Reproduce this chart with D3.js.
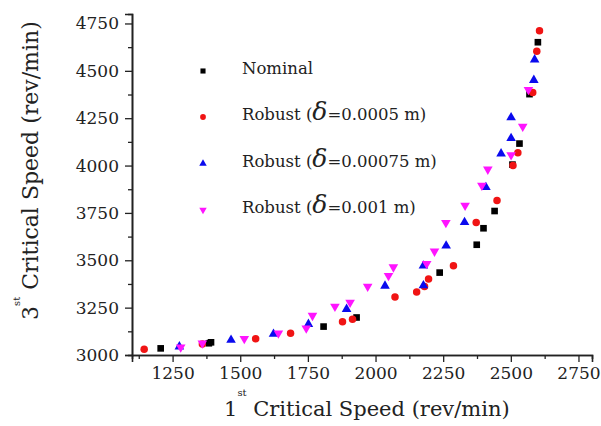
<!DOCTYPE html>
<html>
<head>
<meta charset="utf-8">
<script src="https://cdn.jsdelivr.net/npm/d3@7"></script>
<style>
  body { margin: 0; background: #fff; }
  svg { display: block; }
</style>
</head>
<body>
<svg id="chart" width="601" height="426"></svg>
<script>

// values, [1st critical speed, 3rd critical speed]
var nominal = [[1206,3035], [1384,3062], [1392,3067], [1808,3150], [1930,3198], [2237,3435],
               [2374,3582], [2399,3669], [2440,3760], [2506,4005], [2532,4116], [2569,4377],
               [2600,4651]];

var robust_0005 = [[1145,3030], [1360,3058], [1557,3086], [1686,3115], [1878,3176], [1915,3189],
                   [2072,3306], [2152,3332], [2181,3362], [2196,3401], [2288,3471], [2372,3700],
                   [2449,3815], [2508,4000], [2526,4068], [2581,4386], [2596,4603], [2606,4712]];

var robust_00075 = [[1275,3044], [1466,3079], [1623,3111], [1752,3163], [1893,3242], [2035,3365],
                    [2177,3367], [2177,3471], [2261,3577], [2329,3701], [2408,3885], [2464,4063],
                    [2501,4144], [2501,4254], [2585,4451], [2588,4559]];

var robust_001 = [[1280,3041], [1360,3062], [1515,3086], [1641,3115], [1744,3141], [1767,3208],
                  [1850,3256], [1906,3277], [1971,3362], [2048,3418], [2066,3464], [2189,3482],
                  [2218,3547], [2260,3698], [2331,3789], [2393,3895], [2415,3980], [2501,4056],
                  [2544,4206], [2565,4400]];

var series_names = ['Nominal', 'Robust (', 'Robust (', 'Robust ('];
var series_deltas = [null, '=0.0005 m)', '=0.00075 m)', '=0.001 m)'];

var x_ticks = [1250, 1500, 1750, 2000, 2250, 2500, 2750];
var y_ticks = [3000, 3250, 3500, 3750, 4000, 4250, 4500, 4750];

var font = '"DejaVu Serif", serif';
var ink = '#222';

var svg = d3.select('#chart');

var x = d3.scaleLinear().domain([1100, 2800]).range([132, 592]);
var y = d3.scaleLinear().domain([3000, 4800]).range([355, 14]);

var styles = [
  {color: '#000000', shape: d3.symbolSquare,   size: 44, legend_size: 26, rotate: 0},
  {color: '#f01414', shape: d3.symbolCircle,   size: 44, legend_size: 26, rotate: 0},
  {color: '#0a0aee', shape: d3.symbolTriangle, size: 40, legend_size: 24, rotate: 0},
  {color: '#ff14ff', shape: d3.symbolTriangle, size: 40, legend_size: 24, rotate: 180}
];

var all_series = [nominal, robust_0005, robust_00075, robust_001];

// axes: major ticks every 250, minor every 125, pointing outward
var x_minor = d3.range(1125, 2800, 125).filter(v => x_ticks.indexOf(v) < 0);
var y_minor = d3.range(3125, 4800, 250);

var x_axis = svg.append('g').attr('transform', 'translate(0,355)');
x_axis.call(d3.axisBottom(x).tickValues(x_minor).tickSize(4).tickFormat(''));
x_axis.call(g => {
  g.append('g').call(d3.axisBottom(x).tickValues(x_ticks).tickSize(7).tickFormat(d3.format('d')));
});

var y_axis = svg.append('g').attr('transform', 'translate(132,0)');
y_axis.call(d3.axisLeft(y).tickValues(y_minor).tickSize(4).tickFormat(''));
y_axis.call(g => {
  g.append('g').call(d3.axisLeft(y).tickValues(y_ticks).tickSize(7).tickFormat(d3.format('d')));
});

svg.selectAll('.domain').attr('stroke', ink).attr('stroke-width', 1.6);
svg.selectAll('.tick line').attr('stroke', ink).attr('stroke-width', 1.3);
svg.selectAll('.tick text')
   .attr('font-family', font)
   .attr('font-size', 17)
   .attr('fill', ink);

x_axis.selectAll('.tick text').attr('y', 12);
y_axis.selectAll('.tick text').attr('x', -13);

// data points
all_series.forEach((data, i) => {
  var st = styles[i];
  svg.append('g')
     .selectAll('path')
     .data(data)
     .enter()
     .append('path')
     .attr('d', d3.symbol().type(st.shape).size(st.size))
     .attr('transform', d => 'translate(' + x(d[0]) + ',' + y(d[1]) + ') rotate(' + st.rotate + ')')
     .attr('fill', st.color);
});

// legend
var legend_y = [74, 120, 166.5, 213];

series_names.forEach((name, i) => {
  var st = styles[i];
  var g = svg.append('g');

  g.append('path')
   .attr('d', d3.symbol().type(st.shape).size(st.legend_size))
   .attr('transform', 'translate(203,' + (legend_y[i] - 3) + ') rotate(' + st.rotate + ')')
   .attr('fill', st.color);

  var t = g.append('text')
           .attr('x', 242)
           .attr('y', legend_y[i])
           .attr('font-family', font)
           .attr('font-size', 16.5)
           .attr('fill', ink);

  t.append('tspan').text(name);

  if (series_deltas[i])
  {
    t.append('tspan')
     .text('δ')
     .attr('font-style', 'italic')
     .attr('font-size', 25);
    t.append('tspan')
     .text(series_deltas[i]);
  }
});

// axis titles
var x_title = svg.append('text')
                 .attr('x', 224)
                 .attr('y', 416)
                 .attr('font-family', font)
                 .attr('font-size', 21)
                 .attr('fill', ink);
x_title.append('tspan').text('1');
x_title.append('tspan').text('st').attr('font-size', 10).attr('dy', -20);
x_title.append('tspan').text(' Critical Speed (rev/min)').attr('dy', 20);

var y_title = svg.append('text')
                 .attr('transform', 'translate(38,320) rotate(-90)')
                 .attr('font-family', font)
                 .attr('font-size', 22)
                 .attr('fill', ink);
y_title.append('tspan').text('3');
y_title.append('tspan').text('st').attr('font-size', 10).attr('dy', -18);
y_title.append('tspan').text(' Critical Speed (rev/min)').attr('dy', 18);

</script>
</body>
</html>
